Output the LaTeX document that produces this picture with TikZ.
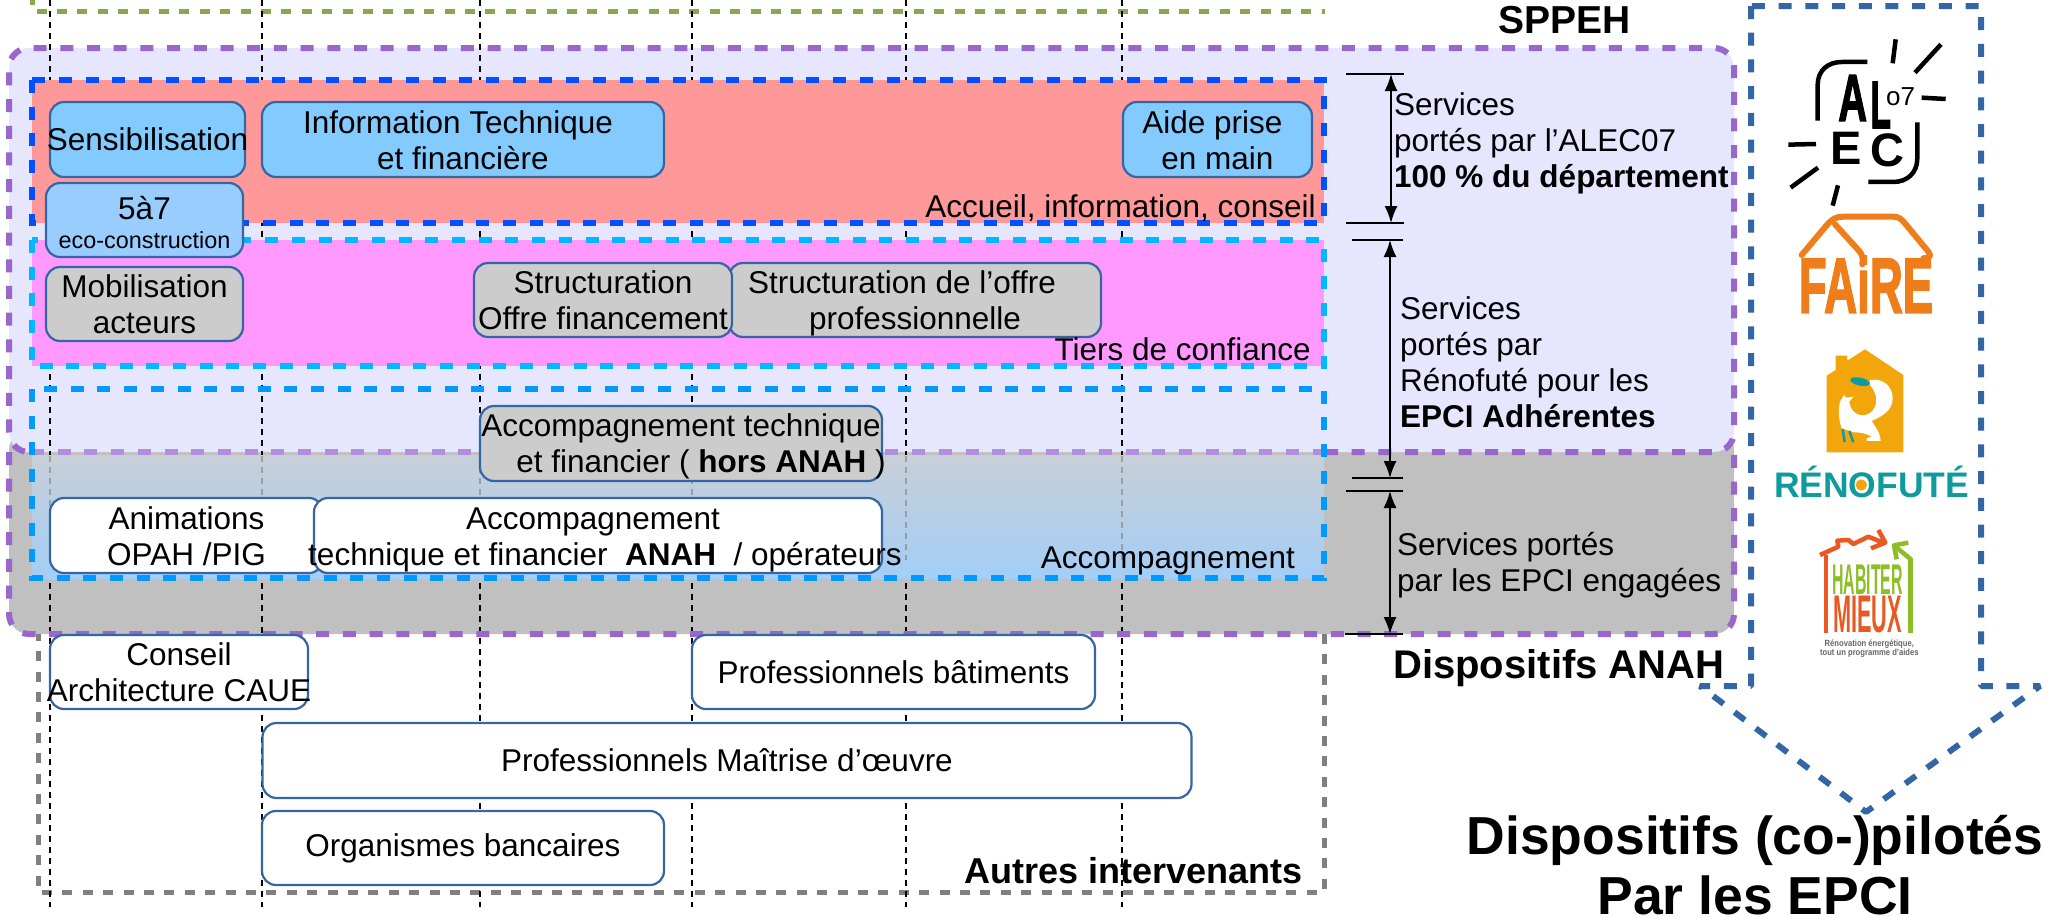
\documentclass[tikz,border=0pt]{standalone}
\usepackage{fontspec}
\setmainfont{Liberation Sans}
\newfontfamily\heavyfont{Liberation Sans}[BoldFeatures={FakeBold=2.5}]
\usetikzlibrary{arrows.meta}
\definecolor{lavbg}{HTML}{E6E6FF}
\definecolor{greybg}{HTML}{C0C0C0}
\definecolor{purpledash}{HTML}{9966CC}
\definecolor{purplefade}{HTML}{B08FDD}
\definecolor{redbg}{HTML}{FF9999}
\definecolor{pinkbg}{HTML}{FF99FF}
\definecolor{bluedash}{HTML}{0050FF}
\definecolor{cyandash}{HTML}{00B8FF}
\definecolor{skydash}{HTML}{0099FF}
\definecolor{greendash}{HTML}{86A94E}
\definecolor{borderblue}{HTML}{3465A4}
\definecolor{fadetop}{HTML}{C8CFD8}
\definecolor{fademid}{HTML}{BFD0E4}
\definecolor{fadebot}{HTML}{A3CEF6}
\definecolor{faireorange}{HTML}{EF7D1A}
\definecolor{renoorange}{HTML}{F3A60B}
\definecolor{renoteal}{HTML}{0F9B9E}
\definecolor{habiterred}{HTML}{E85A21}
\definecolor{habitergreen}{HTML}{8CBF26}
\definecolor{sky}{HTML}{83CAFF}
\definecolor{skylight}{HTML}{99CCFF}
\newcommand{\wide}[1]{\makebox[0pt]{#1}}
\tikzset{
  bigdash/.style={line width=6pt,dash pattern=on 13pt off 13.7pt},
  smalldash/.style={line width=5pt,dash pattern=on 10pt off 10.4pt},
  gridline/.style={line width=1.8pt,dash pattern=on 6pt off 5pt},
  servicebox/.style={draw=borderblue,line width=2.2pt,rounded corners=14pt,inner sep=0pt,align=center},
  bluebox/.style={servicebox,fill=#1},
  bluebox/.default={sky},
  greybox/.style={servicebox,fill=black!20},
  whitebox/.style={servicebox,fill=white},
  ray/.style={line width=4.5pt},
  faireline/.style={faireorange,line width=6pt,line cap=round,line join=round},
  txt/.style={inner sep=0pt,align=left}
}
\begin{document}
\begin{tikzpicture}[x=1pt,y=-1pt,>={Latex[length=17pt,width=13pt]},
  every node/.style={font=\fontsize{31.5}{36}\selectfont}]
\useasboundingbox (0,0) rectangle (2046,918);
% BACKGROUND BANDS
\fill [greybg,rounded corners=20pt] (9,430) rectangle (1734,634);
\fill [lavbg,rounded corners=20pt] (9,48) rectangle (1734,452);
% TOP AND BOTTOM FRAMES
\draw [smalldash,dash phase=4.8pt,greendash] (32,0) -- (32,11) -- (1325,11);
\draw [smalldash,gray] (1324,634) -- (1324,892) -- (38,892) -- (38,634);
% COLUMN LINES
\foreach \col in {50,262,480,692,906,1122}
  \draw [gridline] (\col,0) -- (\col,907);
% PURPLE FRAMES
\draw [bigdash,purpledash,rounded corners=20pt] (1325,452) -- (1734,452) -- (1734,48) -- (9,48) -- (9,452) -- (31,452);
\draw [bigdash,purpledash,rounded corners=20pt] (9,452) -- (9,634) -- (1734,634) -- (1734,452);
% SERVICE BANDS
\draw [bigdash,bluedash,fill=redbg] (32,80) rectangle (1324,223);
\draw [bigdash,cyandash,fill=pinkbg] (32,240) rectangle (1324,366);
\shade [top color=fadetop,middle color=fademid,bottom color=fadebot] (32,455) rectangle (1324,578);
\foreach \col in {50,262,480,692,906,1122}
  \draw [gridline,gray,opacity=.6] (\col,456) -- (\col,560);
\draw [bigdash,purplefade] (31,452) -- (1325,452);
\draw [bigdash,skydash] (32,389) rectangle (1324,578);
% RED BAND BOXES
\node [bluebox,minimum width=195pt,minimum height=75pt] (sensib) at (147.5,139.5) {\wide{Sensibilisation}};
\node [bluebox,minimum width=402pt,minimum height=75pt] (infotech) at (463,139.5) {\rule{0pt}{25pt}\hspace*{-10pt}Information Technique\\et financière};
\node [bluebox,minimum width=189pt,minimum height=75pt] (aide) at (1217.5,139.5) {\rule{0pt}{25pt}\hspace*{-10pt}Aide prise\\en main};
\node [bluebox=skylight,minimum width=197pt,minimum height=74pt] (cinqsept) at (144.5,220) {\rule{0pt}{28pt}5à7\\[-7pt]{\fontsize{23.4}{27}\selectfont eco-construction}};
% PINK BAND BOXES
\node [greybox,minimum width=197pt,minimum height=74pt] (mobil) at (144.5,304) {Mobilisation\\acteurs};
\node [greybox,minimum width=372pt,minimum height=74pt] (offrepro) at (915,300) {\rule{0pt}{30pt}\hspace*{-26pt}Structuration de l’offre\\professionnelle};
\node [greybox,minimum width=258pt,minimum height=74pt] (offrefin) at (603,300) {Structuration\\\wide{Offre financement}};
% ACCOMPAGNEMENT BOXES
\node [greybox,minimum width=402pt,minimum height=75pt] (horsanah) at (681,443.5) {\rule{0pt}{28pt}\wide{Accompagnement technique}\\\wide{\hspace*{40pt}et financier ( \textbf{hors ANAH} )}};
\node [whitebox,minimum width=273pt,minimum height=75pt] (opah) at (186.5,535.5) {\rule{0pt}{25pt}Animations\\OPAH /PIG};
\node [whitebox,minimum width=568pt,minimum height=75pt] (anah) at (598,535.5) {\rule{0pt}{30pt}\wide{\hspace*{-10pt}Accompagnement}\\\wide{\hspace*{14pt}technique et financier \ \textbf{ANAH} \ / opérateurs}};
% OTHER ACTORS
\node [whitebox,minimum width=258pt,minimum height=74pt] (caue) at (179,672) {Conseil\\\wide{Architecture CAUE}};
\node [whitebox,minimum width=403pt,minimum height=74pt] (batiment) at (893.5,672) {Professionnels bâtiments};
\node [whitebox,minimum width=929pt,minimum height=75pt] (moe) at (727,760.5) {Professionnels Maîtrise d’œuvre};
\node [whitebox,minimum width=402pt,minimum height=74pt] (banque) at (463,848) {Organismes bancaires};
% BAND LABELS
\node [txt,anchor=base east] (accueil) at (1316,217) {Accueil, information, conseil};
\node [txt,anchor=base east] (tiers) at (1311,360) {Tiers de confiance};
\node [txt,anchor=base east] (accomp) at (1295,568) {Accompagnement};
\node [txt,anchor=base east,font=\fontsize{36}{40}\selectfont\bfseries] (autres) at (1303,883) {Autres intervenants};
\node [txt,anchor=base,font=\fontsize{39}{45}\selectfont\bfseries] (sppeh) at (1565,33) {SPPEH};
\node [txt,anchor=base west,font=\fontsize{40}{45}\selectfont\bfseries] (anahlab) at (1393,678) {Dispositifs ANAH};
% MEASURE ARROWS
\coordinate (alectop) at (1391,74);
\coordinate (alecbot) at (1391,223);
\coordinate (renotop) at (1390,240);
\coordinate (renobot) at (1390,478);
\coordinate (epcitop) at (1390,491);
\coordinate (epcibot) at (1390,634);
\draw [<->,line width=1.8pt] (alectop) -- (alecbot);
\draw [<->,line width=1.8pt] (renotop) -- (renobot);
\draw [<->,line width=1.8pt] (epcitop) -- (epcibot);
\foreach \tick/\lft in {alectop/45,alecbot/45,renotop/38,renobot/38,epcitop/44,epcibot/45}
  \draw [line width=1.8pt] ([xshift=-\lft pt]\tick) -- ([xshift=13pt]\tick);
\node [txt,anchor=base west] (svcalec) at (1394,187) {Services\\portés par l’ALEC07\\\textbf{100 \% du département}};
\node [txt,anchor=base west] (svcreno) at (1400,427) {Services\\portés par\\Rénofuté pour les\\\textbf{EPCI Adhérentes}};
\node [txt,anchor=base west] (svcepci) at (1397,591) {Services portés\\par les EPCI engagées};
% ARROW FRAME
\draw [bigdash,line join=bevel,borderblue] (1751,6) -- (1751,686) -- (1700,686) -- (1866,812) -- (2040,686) -- (1981,686) -- (1981,6) -- cycle;
\node [txt,anchor=base,align=center,font=\fontsize{53.5}{60}\selectfont\bfseries] (pilotes) at (1755,914) {Dispositifs (co-)pilotés\\Par les EPCI};
% ALEC LOGO
\begin{scope}[shift={(1760,30)},x=.3333pt,y=-.3333pt]
\foreach \a/\b in {{(407,28)/(398,100)},{(543,43)/(465,128)},{(485,203)/(557,207)},{(168,342)/(85,344)},{(174,413)/(92,473)},{(234,466)/(218,527)}}
  \draw [ray] \a -- \b;
\draw [ray] (173,272) -- (173,165) .. controls (173,120) and (205,96) .. (245,96) -- (322,96);
\draw [ray] (472,277) -- (472,385) .. controls (472,430) and (440,456) .. (400,456) -- (325,456);
\node [inner sep=0pt,xscale=.6,transform shape,font=\fontsize{66}{66}\selectfont\heavyfont\bfseries] (alec1) at (278,204) {A};
\node [inner sep=0pt,xscale=.5,transform shape,font=\fontsize{67}{67}\selectfont\heavyfont\bfseries] (alec2) at (362,225) {L};
\node [inner sep=0pt,font=\fontsize{47}{47}\selectfont\bfseries] (alec3) at (257,355) {E};
\node [inner sep=0pt,font=\fontsize{47}{47}\selectfont\bfseries] (alec4) at (382,360) {C};
\node [inner sep=0pt,font=\fontsize{26}{26}\selectfont] (alec5) at (422,200) {o7};
\end{scope}
% FAIRE LOGO
\begin{scope}[shift={(1760,205)},x=.3333pt,y=-.3333pt]
\draw [faireline] (125,150) -- (205,55) .. controls (220,40) and (230,35) .. (250,35) -- (400,35) .. controls (420,35) and (425,45) .. (435,55) -- (505,140) .. controls (515,155) and (510,158) .. (490,160);
\draw [faireline] (225,58) -- (295,135) .. controls (310,150) and (310,165) .. (307,178);
\node [inner sep=0pt,xscale=.585,transform shape,text=faireorange,font=\fontsize{78}{78}\selectfont\heavyfont\bfseries] (faire) at (318,238) {FAiRE};
\end{scope}
% RENOFUTE LOGO
\begin{scope}[shift={(1770,345)},x=.3333pt,y=-.3333pt]
\fill [renoorange] (285,13) -- (400,90) -- (400,322) -- (170,322) -- (170,92) -- (197,75) -- (197,32) -- (232,32) -- (232,47) -- cycle;
\fill [white] (300,105) .. controls (340,98) and (368,125) .. (368,160) .. controls (368,195) and (340,212) .. (305,228) .. controls (315,245) and (330,260) .. (332,288) -- (290,288) -- (290,280) -- (305,275) .. controls (290,265) and (270,262) .. (252,262) -- (215,250) .. controls (205,220) and (205,195) .. (210,170) -- (222,150) -- (228,158) -- (250,155) -- (238,170) .. controls (240,195) and (260,215) .. (285,210) .. controls (310,205) and (322,180) .. (318,155) .. controls (312,125) and (290,120) .. (300,105) -- cycle;
\fill [renoteal,rotate around={-12:(270,110)}] (270,110) ellipse (30 and 12);
\draw [renoteal,line width=2.5pt] (218,252) -- (224,292);
\draw [renoteal,line width=2.5pt] (238,258) -- (250,292);
\node [inner sep=0pt,anchor=base,text=renoteal,font=\fontsize{35.5}{36}\selectfont\bfseries] (reno) at (305,458) {RÉNOFUTÉ};
\fill [renoorange] (274,420) circle (17);
\end{scope}
% HABITER MIEUX LOGO
\begin{scope}[shift={(1800,520)},x=.3333pt,y=-.3333pt]
\draw [habiterred,line width=4.5pt,line join=round] (60,105) -- (115,80) -- (112,62) -- (145,60) -- (160,72) -- (205,50) -- (250,68);
\draw [habiterred,line width=4.5pt,line join=round] (235,30) -- (256,68) -- (213,85);
\draw [habiterred,line width=4.5pt] (78,105) -- (78,340);
\draw [habitergreen,line width=4.5pt,line join=round] (325,68) -- (282,76) -- (290,118);
\draw [habitergreen,line width=4.5pt] (282,76) -- (335,120);
\draw [habitergreen,line width=4.5pt] (331,115) -- (331,340);
\node [inner sep=0pt,xscale=.37,transform shape,text=habitergreen,font=\fontsize{43}{43}\selectfont\bfseries] (habiter) at (203,180) {HABITER};
\node [inner sep=0pt,xscale=.41,transform shape,text=habiterred,font=\fontsize{53}{53}\selectfont\bfseries] (mieux) at (203,285) {MIEUX};
\node [inner sep=0pt,align=center,xscale=.85,transform shape,text=black!60,font=\fontsize{9}{9.5}\selectfont\bfseries] (habcap) at (208,386) {Rénovation énergétique,\\tout un programme d’aides};
\end{scope}
\end{tikzpicture}
\end{document}
